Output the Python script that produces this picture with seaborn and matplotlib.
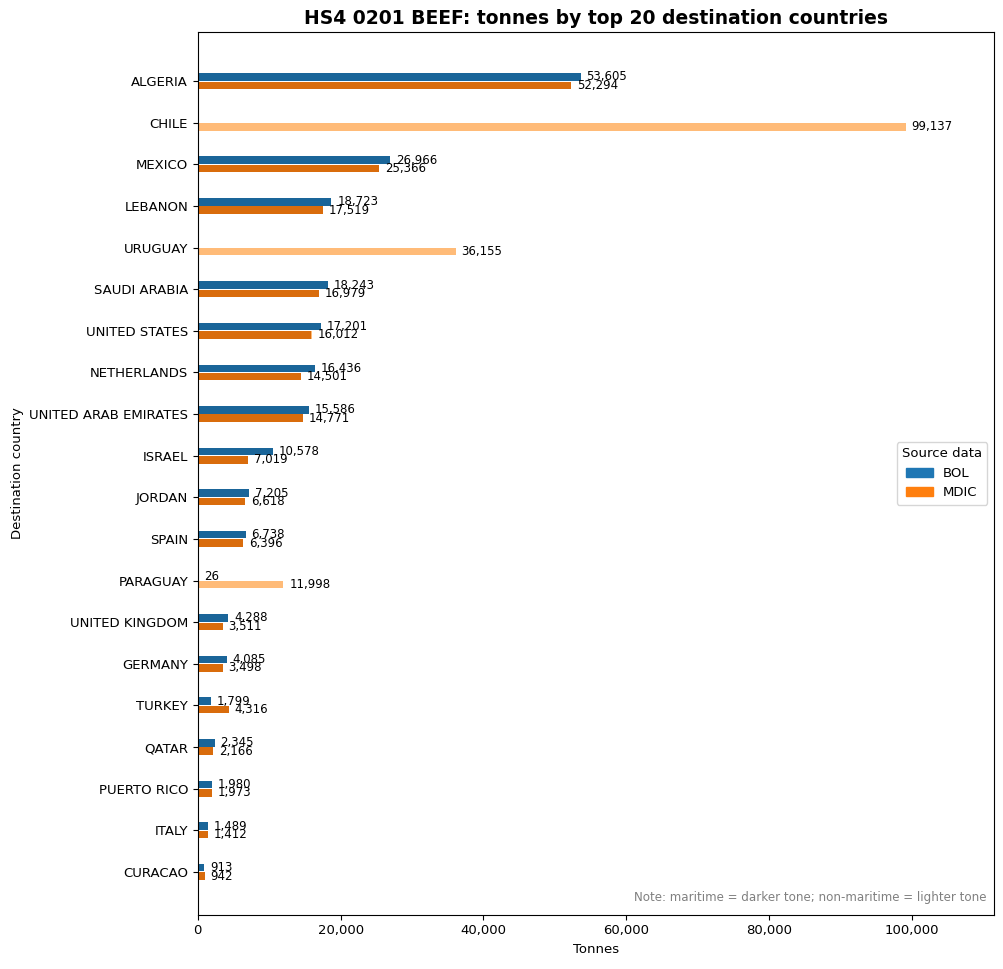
import matplotlib
matplotlib.use('Agg')
import matplotlib.pyplot as plt
import matplotlib.patches as mpatches
import pandas as pd
import seaborn as sns

#######################################################################################################################
# data (tonnes)
countries = ['ALGERIA', 'CHILE', 'MEXICO', 'LEBANON', 'URUGUAY', 'SAUDI ARABIA', 'UNITED STATES',
             'NETHERLANDS', 'UNITED ARAB EMIRATES', 'ISRAEL', 'JORDAN', 'SPAIN', 'PARAGUAY',
             'UNITED KINGDOM', 'GERMANY', 'TURKEY', 'QATAR', 'PUERTO RICO', 'ITALY', 'CURACAO']

bol_maritime = [53605, 0, 26966, 18723, 0, 18243, 17201, 16436, 15586, 10578,
                7205, 6738, 26, 4288, 4085, 1799, 2345, 1980, 1489, 913]
bol_non_maritime = [0, 0, 0, 0, 0, 0, 0, 0, 0, 0,
                    0, 0, 0, 0, 0, 0, 0, 0, 0, 0]

mdic_maritime = [52294, 0, 25366, 17519, 0, 16979, 15862, 14501, 14771, 7019,
                 6618, 6396, 0, 3511, 3498, 4316, 2166, 1973, 1412, 942]
mdic_non_maritime = [0, 99137, 0, 0, 36155, 0, 150, 0, 0, 0,
                     0, 0, 11998, 0, 0, 0, 0, 0, 0, 0]

sources = ['BOL', 'MDIC']

#######################################################################################################################
# build long table
rows = []
for i, c in enumerate(countries):
    rows.append([c, 'BOL', bol_maritime[i], bol_non_maritime[i]])
    rows.append([c, 'MDIC', mdic_maritime[i], mdic_non_maritime[i]])
df = pd.DataFrame(rows, columns=['Country', 'Source', 'Maritime', 'NonMaritime'])
df['Total'] = df['Maritime'] + df['NonMaritime']

dark_colors = {'BOL': '#1a6599', 'MDIC': '#d96c0c'}
light_colors = {'BOL': '#aec7e8', 'MDIC': '#ffbb78'}

plt.rcParams['font.size'] = 9.5

fig, ax = plt.subplots(figsize=(10.04, 9.69), dpi=100)
fig.subplots_adjust(left=0.197, right=0.990, top=0.967, bottom=0.056)

# total first in the lighter tone, maritime on top in the darker tone
sns.barplot(data=df, y='Country', x='Total', hue='Source', order=countries, hue_order=sources,
            palette=light_colors, orient='h', width=0.4, gap=0.1, errorbar=None,
            saturation=1, legend=False, ax=ax)
sns.barplot(data=df, y='Country', x='Maritime', hue='Source', order=countries, hue_order=sources,
            palette=dark_colors, orient='h', width=0.4, gap=0.1, errorbar=None,
            saturation=1, legend=False, ax=ax)

# value labels
for i, c in enumerate(countries):
    for j, s in enumerate(sources):
        total = df[(df.Country == c) & (df.Source == s)]['Total'].iloc[0]
        if total <= 0:
            continue
        ypos = i - 0.1 if j == 0 else i + 0.1
        ax.text(total + 800, ypos, '{:,.0f}'.format(total), va='center', ha='left', fontsize=8.5)

ax.set_xlim(0, 111500)
ax.set_ylim(len(countries) - 1 + 1.03, -1.18)
ax.xaxis.set_major_formatter(matplotlib.ticker.FuncFormatter(lambda v, p: '{:,.0f}'.format(v)))
ax.set_xlabel('Tonnes')
ax.set_ylabel('Destination country')
ax.set_title('HS4 0201 BEEF: tonnes by top 20 destination countries', fontsize=13.5, fontweight='bold')

handles = [mpatches.Patch(color='#1f77b4', label='BOL'), mpatches.Patch(color='#ff7f0e', label='MDIC')]
ax.legend(handles=handles, title='Source data', loc='center right')

ax.text(0.991, 0.012, 'Note: maritime = darker tone; non-maritime = lighter tone',
        transform=ax.transAxes, ha='right', va='bottom', fontsize=8.6, color='gray')

plt.savefig('out.png', dpi=100)
